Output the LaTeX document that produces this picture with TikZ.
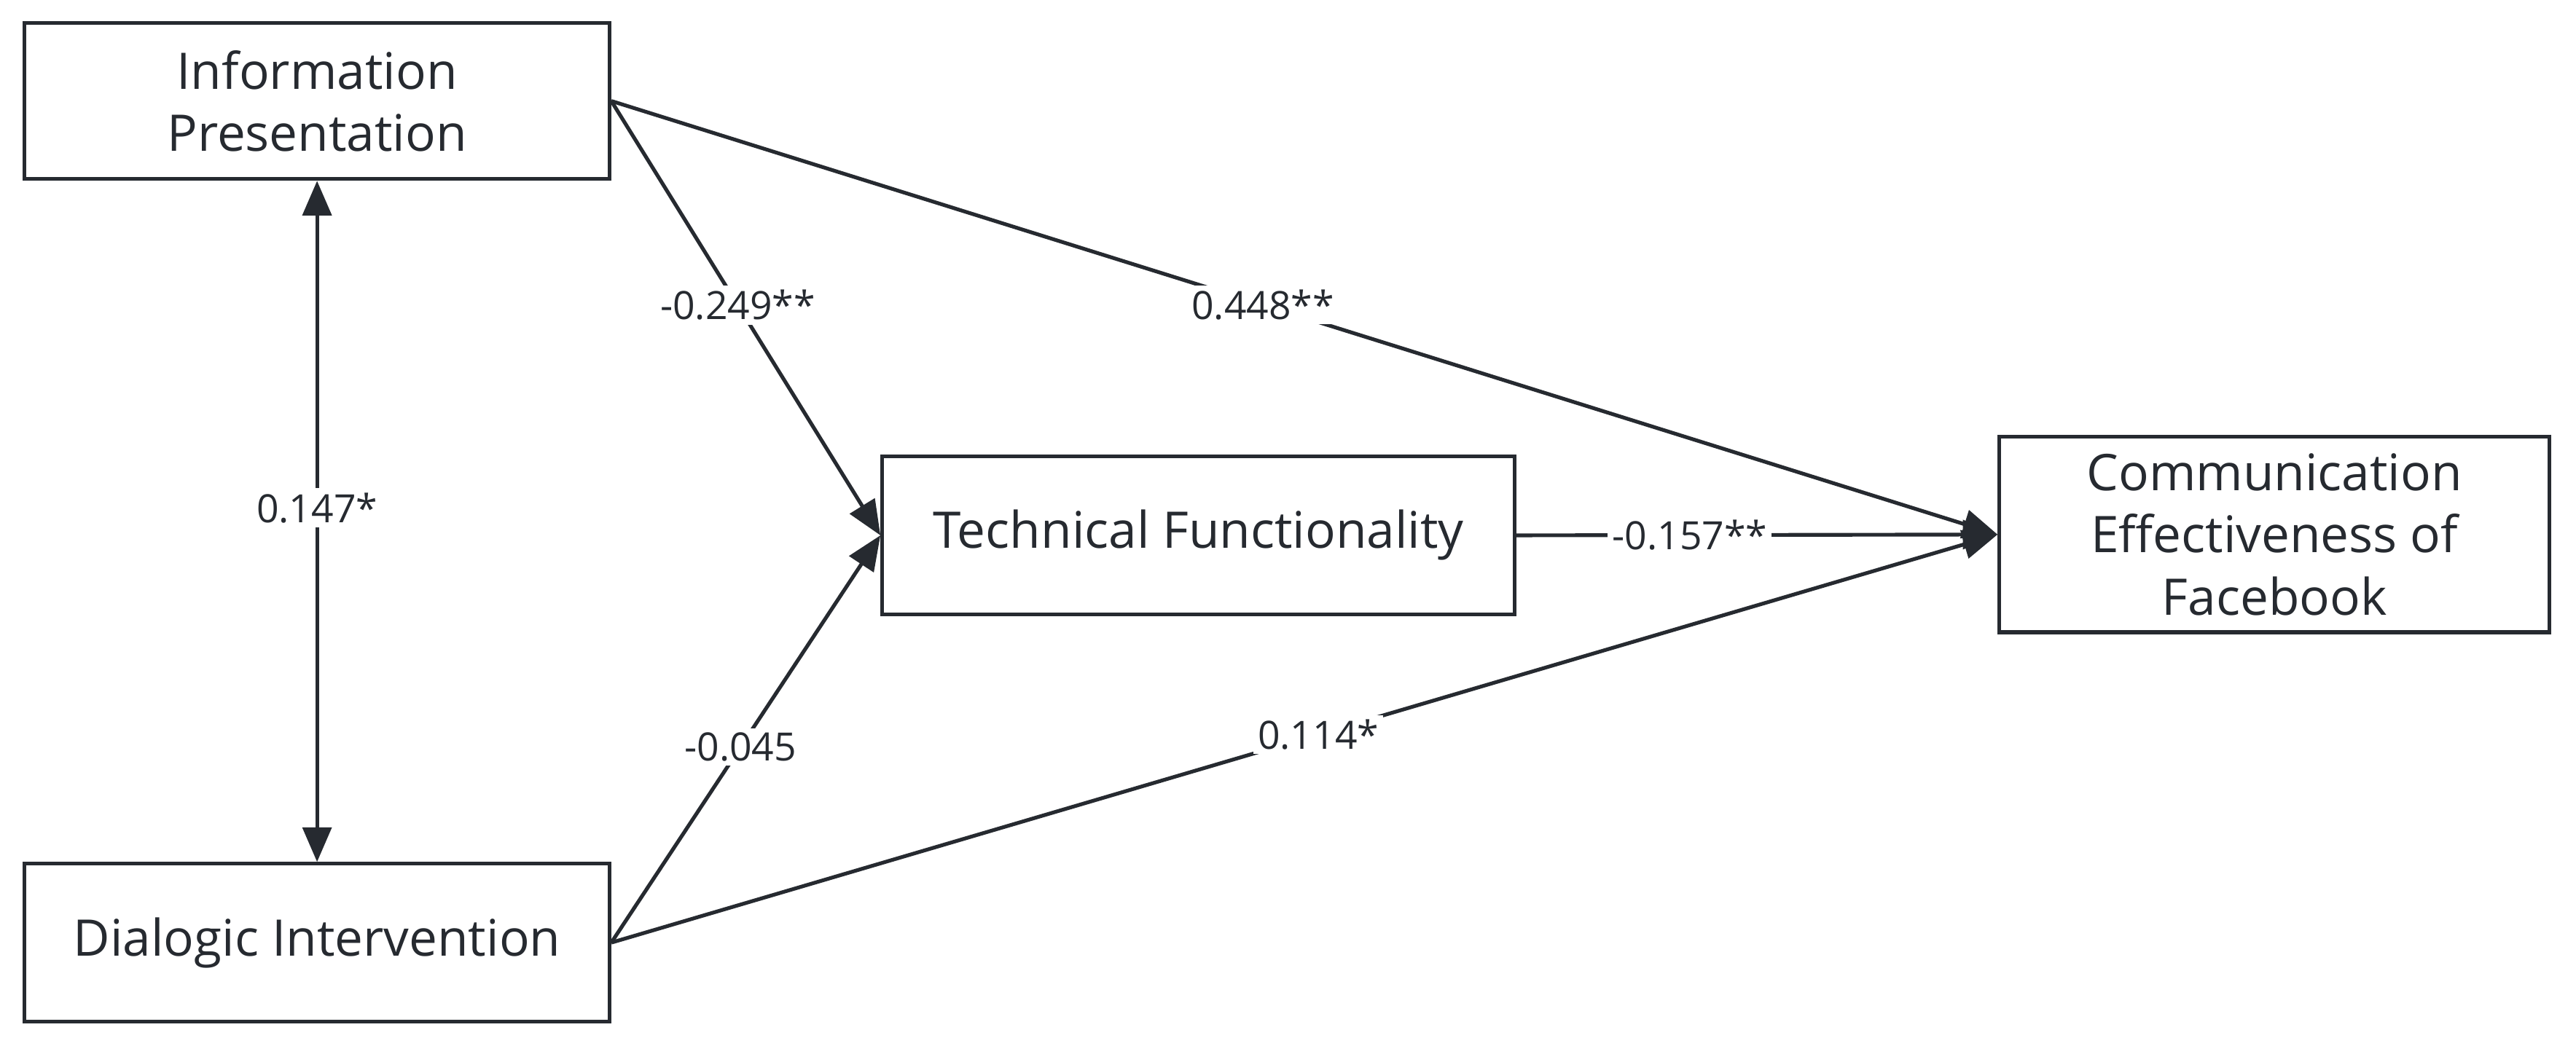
\documentclass[tikz,border=0pt]{standalone}
\usepackage{fontspec}
\setmainfont{Open Sans}
\usetikzlibrary{arrows.meta}
\definecolor{dk}{HTML}{262a30}
\begin{document}
\begin{tikzpicture}[x=0.02cm,y=-0.02cm,
  box/.style={draw=dk,line width=1.3pt,inner sep=0,align=center,font=\fontsize{17.5}{21.5}\selectfont,text=dk},
  conn/.style={draw=dk,line width=1.3pt,-{Triangle[length=12pt,width=10pt]}},
  lab/.style={fill=white,inner sep=1.5pt,font=\fontsize{13.5}{16}\selectfont,text=dk}]
\useasboundingbox (0,0) rectangle (1568,641.4);
\node[box,minimum width=7.12cm,minimum height=1.9cm] (ip) at (193,61.5) {Information\\Presentation};
\node[box,minimum width=7.12cm,minimum height=1.92cm] (di) at (193,574) {Dialogic Intervention};
\node[box,minimum width=7.7cm,minimum height=1.92cm] (tf) at (729.5,326) {Technical Functionality};
\node[box,minimum width=6.7cm,minimum height=2.38cm] (ce) at (1384.5,325.5) {Communication\\Effectiveness of\\Facebook};
\draw[conn] (ip.east) -- node[lab,pos=0.47]{0.448**} (ce.west);
\draw[conn] (ip.east) -- node[lab,pos=0.47]{-0.249**} (tf.west);
\draw[conn] (di.east) -- node[lab,pos=0.48]{-0.045} (tf.west);
\draw[conn] (di.east) -- node[lab,pos=0.51]{0.114*} (ce.west);
\draw[conn] (tf.east) -- node[lab,pos=0.36]{-0.157**} (ce.west);
\draw[conn,{Triangle[length=12pt,width=10pt]}-{Triangle[length=12pt,width=10pt]}] (ip.south) -- node[lab,pos=0.48]{0.147*} (di.north);
\end{tikzpicture}
\end{document}
